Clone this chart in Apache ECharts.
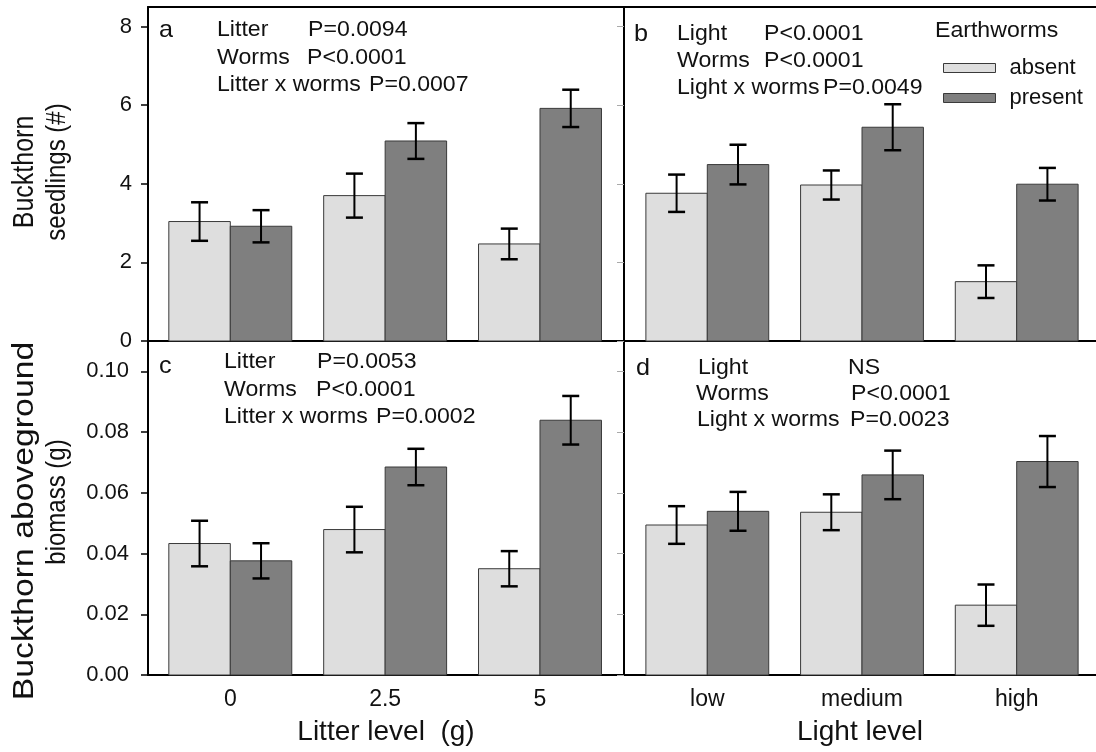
<!DOCTYPE html>
<html><head><meta charset="utf-8">
<script src="https://cdn.jsdelivr.net/npm/echarts@6/dist/echarts.min.js"></script>
<style>html,body{margin:0;padding:0;background:#fff}#chart{width:1096px;height:752px}</style>
</head><body><div id="chart"></div>
<script>
// ---------------- data ----------------
const litterLevels = ['0', '2.5', '5'];
const lightLevels = ['low', 'medium', 'high'];
const categoryPositions = [0, 1, 2];
const seedlingTicks = [0, 2, 4, 6, 8];
const biomassTicks = [0, 0.02, 0.04, 0.06, 0.08, 0.10];

// panel a: seedlings vs litter
const seedLitterAbsent = [3.04, 3.70, 2.47];
const seedLitterAbsentSE = [0.49, 0.56, 0.39];
const seedLitterPresent = [2.92, 5.09, 5.92];
const seedLitterPresentSE = [0.41, 0.455, 0.475];
// panel b: seedlings vs light
const seedLightAbsent = [3.76, 3.97, 1.51];
const seedLightAbsentSE = [0.475, 0.37, 0.415];
const seedLightPresent = [4.49, 5.44, 3.99];
const seedLightPresentSE = [0.505, 0.585, 0.415];
// panel c: biomass vs litter
const bioLitterAbsent = [0.0433, 0.0479, 0.0350];
const bioLitterAbsentSE = [0.0075, 0.0075, 0.0058];
const bioLitterPresent = [0.0376, 0.0685, 0.0839];
const bioLitterPresentSE = [0.0058, 0.0060, 0.0080];
// panel d: biomass vs light
const bioLightAbsent = [0.0494, 0.0536, 0.0230];
const bioLightAbsentSE = [0.0062, 0.0059, 0.0068];
const bioLightPresent = [0.0539, 0.0659, 0.0703];
const bioLightPresentSE = [0.0064, 0.0080, 0.0084];

// ---------------- styles ----------------
const FONT = "'Liberation Sans', Arial, Helvetica, sans-serif";
const INK = '#111';
const LIGHT = '#dedede';
const DARK = '#7f7f7f';
const EDGE = '#3a3a3a';
const BAR_FRAC = 0.397;   // bar width as fraction of one category step
const CAP = 8.5;          // half width of error-bar caps (px)
const litterExtent = [-0.5315, 2.5425];
const lightExtent = [-0.5385, 2.5126];

const chart = echarts.init(document.getElementById('chart'), null, {renderer: 'canvas'});

function barSeries(name, axis, values, side, color) {
  return {
    type: 'custom', name: name, xAxisIndex: axis, yAxisIndex: axis, z: 3, silent: true,
    itemStyle: {color: color, borderColor: EDGE, borderWidth: 1},
    data: values.map((v, i) => [categoryPositions[i], v]),
    encode: {x: 0, y: 1},
    renderItem: function (params, api) {
      const top = api.coord([api.value(0), api.value(1)]);
      const base = api.coord([api.value(0), 0]);
      const w = api.size([BAR_FRAC, 0])[0];
      const x = side < 0 ? top[0] - w : top[0];
      return {type: 'rect', shape: {x: x, y: top[1], width: w, height: base[1] - top[1]},
        style: {fill: color, stroke: EDGE, lineWidth: 1}};
    }
  };
}
function errSeries(name, axis, means, ses, side) {
  return {
    type: 'custom', name: name, xAxisIndex: axis, yAxisIndex: axis, z: 5, silent: true,
    data: means.map((m, i) => [categoryPositions[i], m - ses[i], m + ses[i]]),
    encode: {x: 0, y: [1, 2]},
    renderItem: function (params, api) {
      const lo = api.coord([api.value(0), api.value(1)]);
      const hi = api.coord([api.value(0), api.value(2)]);
      const half = api.size([BAR_FRAC, 0])[0] / 2;
      const cx = lo[0] + side * half;
      const st = {stroke: '#000', lineWidth: 2};
      const cs = {stroke: '#000', lineWidth: 2.5};
      return {type: 'group', children: [
        {type: 'line', shape: {x1: cx, y1: lo[1], x2: cx, y2: hi[1]}, style: st},
        {type: 'line', shape: {x1: cx - CAP, y1: lo[1], x2: cx + CAP, y2: lo[1]}, style: cs},
        {type: 'line', shape: {x1: cx - CAP, y1: hi[1], x2: cx + CAP, y2: hi[1]}, style: cs}
      ]};
    }
  };
}

const frameLine = {show: true, onZero: false, lineStyle: {color: '#000', width: 2}};

function xAxisDef(grid, extent, labels, name, position) {
  const ax = {
    type: 'value', gridIndex: grid, min: extent[0], max: extent[1],
    position: position || 'bottom',
    axisLine: frameLine, axisTick: {show: false}, splitLine: {show: false},
    axisLabel: {show: false}
  };
  if (labels) {
    ax.axisLabel = {show: true, customValues: categoryPositions, margin: 13,
      fontSize: 23, fontFamily: FONT, color: INK,
      formatter: function (v) { return labels[Math.round(v)]; }};
    ax.name = name; ax.nameLocation = 'middle'; ax.nameGap = 43;
    ax.nameTextStyle = {fontSize: 28, fontFamily: FONT, color: INK};
  }
  return ax;
}
function yAxisDef(grid, max, ticks, showLabels, digits, margin) {
  return {
    type: 'value', gridIndex: grid, min: 0, max: max,
    axisLine: frameLine, splitLine: {show: false},
    axisTick: showLabels
      ? {show: true, customValues: ticks, length: 7, lineStyle: {color: '#000', width: 1.5}}
      : {show: true, customValues: ticks, length: 7, lineStyle: {color: '#aaa', width: 1}},
    axisLabel: {show: showLabels, customValues: ticks, margin: margin, fontSize: 22,
      fontFamily: FONT, color: INK,
      formatter: function (v) { return v.toFixed(digits); }}
  };
}

function txt(text, x, y, size, sx) {
  return {type: 'text', x: x, y: y, scaleX: sx || 1.05, silent: true,
    style: {text: text, fontSize: size || 22, fontFamily: FONT, fill: INK, align: 'left', verticalAlign: 'middle'}};
}
function vtxt(text, x, y, size, sLen, sThick) {
  return {type: 'text', x: x, y: y, rotation: Math.PI / 2, scaleX: sLen || 1, scaleY: sThick || 1, silent: true,
    style: {text: text, fontSize: size, fontFamily: FONT, fill: INK, align: 'center', verticalAlign: 'middle'}};
}

const option = {
  animation: false,
  textStyle: {fontFamily: FONT},
  grid: [
    {left: 148, top: 7, width: 476, height: 334, outerBoundsMode: 'none'},
    {left: 624, top: 7, width: 472, height: 334, outerBoundsMode: 'none'},
    {left: 148, top: 341, width: 476, height: 334, outerBoundsMode: 'none'},
    {left: 624, top: 341, width: 472, height: 334, outerBoundsMode: 'none'}
  ],
  xAxis: [
    xAxisDef(0, litterExtent),
    xAxisDef(1, lightExtent),
    xAxisDef(2, litterExtent, litterLevels, 'Litter level  (g)'),
    xAxisDef(3, lightExtent, lightLevels, 'Light level'),
    xAxisDef(0, litterExtent, null, null, 'top'),
    xAxisDef(1, lightExtent, null, null, 'top')
  ],
  yAxis: [
    yAxisDef(0, 8.5, seedlingTicks, true, 0, 16),
    yAxisDef(1, 8.5, seedlingTicks, false, 0, 16),
    yAxisDef(2, 0.11, biomassTicks, true, 2, 19),
    yAxisDef(3, 0.11, biomassTicks, false, 2, 19)
  ],
  legend: {
    orient: 'vertical', left: 943, top: 56, padding: 0,
    itemWidth: 52, itemHeight: 9, itemGap: 6,
    selectedMode: false,
    textStyle: {fontSize: 22, fontFamily: FONT, color: INK, lineHeight: 24, padding: [0, 0, 0, 9]},
    data: [
      {name: 'absent', icon: 'rect', itemStyle: {color: LIGHT, borderColor: EDGE, borderWidth: 1}},
      {name: 'present', icon: 'rect', itemStyle: {color: DARK, borderColor: EDGE, borderWidth: 1}}
    ]
  },
  series: [
    barSeries('absent', 0, seedLitterAbsent, -1, LIGHT),
    barSeries('present', 0, seedLitterPresent, 1, DARK),
    errSeries('absent SE', 0, seedLitterAbsent, seedLitterAbsentSE, -1),
    errSeries('present SE', 0, seedLitterPresent, seedLitterPresentSE, 1),
    barSeries('absent', 1, seedLightAbsent, -1, LIGHT),
    barSeries('present', 1, seedLightPresent, 1, DARK),
    errSeries('absent SE', 1, seedLightAbsent, seedLightAbsentSE, -1),
    errSeries('present SE', 1, seedLightPresent, seedLightPresentSE, 1),
    barSeries('absent', 2, bioLitterAbsent, -1, LIGHT),
    barSeries('present', 2, bioLitterPresent, 1, DARK),
    errSeries('absent SE', 2, bioLitterAbsent, bioLitterAbsentSE, -1),
    errSeries('present SE', 2, bioLitterPresent, bioLitterPresentSE, 1),
    barSeries('absent', 3, bioLightAbsent, -1, LIGHT),
    barSeries('present', 3, bioLightPresent, 1, DARK),
    errSeries('absent SE', 3, bioLightAbsent, bioLightAbsentSE, -1),
    errSeries('present SE', 3, bioLightPresent, bioLightPresentSE, 1)
  ],
  graphic: [
    // panel a
    txt('a', 159, 30, 24), txt('Litter', 217, 30), txt('P=0.0094', 308, 30),
    txt('Worms', 217, 57.5), txt('P<0.0001', 307, 57.5),
    txt('Litter x worms', 217, 85), txt('P=0.0007', 369, 85),
    // panel b
    txt('b', 634, 34, 24), txt('Light', 677, 34), txt('P<0.0001', 764, 34),
    txt('Worms', 677, 61), txt('P<0.0001', 764, 61),
    txt('Light x worms', 677, 88), txt('P=0.0049', 823, 88),
    txt('Earthworms', 935, 31),
    // panel c
    txt('c', 159, 366, 24), txt('Litter', 224, 362), txt('P=0.0053', 317, 362),
    txt('Worms', 224, 390), txt('P<0.0001', 316, 390),
    txt('Litter x worms', 224, 417), txt('P=0.0002', 376, 417),
    // panel d
    txt('d', 636, 368, 24), txt('Light', 698, 368), txt('NS', 848, 368),
    txt('Worms', 696, 394), txt('P<0.0001', 851, 394),
    txt('Light x worms', 697, 420), txt('P=0.0023', 850, 420),
    // y axis titles
    vtxt('Buckthorn', 25, 172, 25, 1, 1.18),
    vtxt('seedlings (#)', 57, 172, 24, 1, 1.18),
    vtxt('Buckthorn aboveground', 25, 521, 25, 1.35, 1.18),
    vtxt('biomass (g)', 57, 502, 24, 1, 1.18)
  ]
};
chart.setOption(option);
</script>
</body></html>
